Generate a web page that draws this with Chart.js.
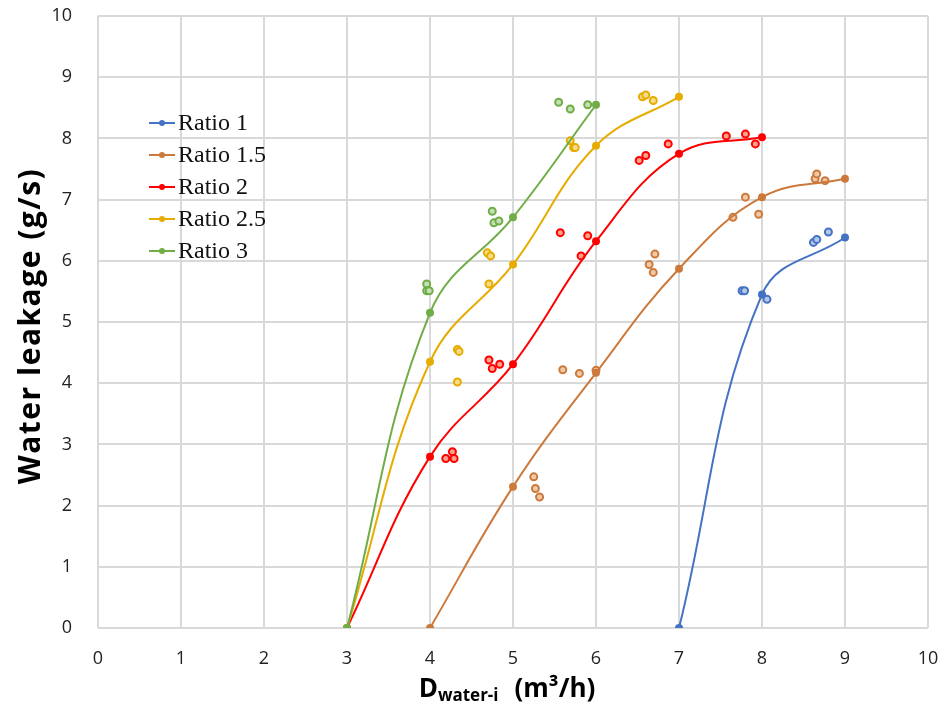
<!DOCTYPE html>
<html>
<head>
<meta charset="utf-8">
<script src="https://cdn.jsdelivr.net/npm/chart.js@4.4.0/dist/chart.umd.min.js"></script>
<style>
  body { margin: 0; background: #fff; }
  #leak { display: block; }
</style>
</head>
<body>
<canvas id="leak" width="938" height="704"></canvas>
<script>
// fitted curves (filled markers)
const r1X = [7, 8, 9];
const r1Y = [0, 5.45, 6.38];
const r15X = [4, 5, 6, 7, 8, 9];
const r15Y = [0, 2.31, 4.17, 5.87, 7.04, 7.34];
const r2X = [3, 4, 5, 6, 7, 8];
const r2Y = [0, 2.80, 4.31, 6.32, 7.75, 8.02];
const r25X = [3, 4, 5, 6, 7];
const r25Y = [0, 4.35, 5.94, 7.88, 8.68];
const r3X = [3, 4, 5, 6];
const r3Y = [0, 5.15, 6.71, 8.55];

// measured points (hollow markers)
const r1ScX = [7.76, 7.79, 8.06, 8.62, 8.66, 8.80];
const r1ScY = [5.51, 5.51, 5.37, 6.30, 6.35, 6.47];
const r15ScX = [5.25, 5.27, 5.32, 5.60, 5.80, 6.00, 6.64, 6.69, 6.71, 7.65, 7.80, 7.96, 8.64, 8.66, 8.76];
const r15ScY = [2.47, 2.28, 2.14, 4.22, 4.16, 4.21, 5.94, 5.81, 6.11, 6.71, 7.04, 6.76, 7.34, 7.42, 7.31];
const r2ScX = [4.19, 4.27, 4.29, 4.71, 4.75, 4.84, 5.57, 5.82, 5.90, 6.52, 6.60, 6.87, 7.57, 7.80, 7.92];
const r2ScY = [2.77, 2.88, 2.77, 4.38, 4.24, 4.31, 6.46, 6.08, 6.41, 7.64, 7.72, 7.91, 8.04, 8.07, 7.91];
const r25ScX = [4.33, 4.35, 4.33, 4.69, 4.73, 4.71, 5.69, 5.73, 5.75, 6.56, 6.60, 6.69];
const r25ScY = [4.55, 4.52, 4.02, 6.13, 6.08, 5.62, 7.96, 7.85, 7.85, 8.68, 8.71, 8.62];
const r3ScX = [3.96, 3.96, 3.99, 4.75, 4.77, 4.83, 5.55, 5.69, 5.90];
const r3ScY = [5.62, 5.51, 5.51, 6.81, 6.62, 6.65, 8.59, 8.48, 8.55];

const labels = ['Ratio 1', 'Ratio 1.5', 'Ratio 2', 'Ratio 2.5', 'Ratio 3'];
const colors = ['#4472c4', '#cc7a3c', '#ff0000', '#e6ac00', '#70ad47'];
const pale = ['#b4c7e7', '#efc9a8', '#ffa08a', '#f6dd8c', '#c5e0b4'];

const lineX = [r1X, r15X, r2X, r25X, r3X];
const lineY = [r1Y, r15Y, r2Y, r25Y, r3Y];
const scX = [r1ScX, r15ScX, r2ScX, r25ScX, r3ScX];
const scY = [r1ScY, r15ScY, r2ScY, r25ScY, r3ScY];

function pts(xs, ys) {
  return xs.map((x, i) => ({ x: x, y: ys[i] }));
}

const datasets = [];
labels.forEach((lab, i) => {
  datasets.push({
    type: 'scatter',
    label: lab + ' data',
    data: pts(scX[i], scY[i]),
    borderColor: colors[i],
    backgroundColor: pale[i],
    pointRadius: 3.5,
    pointBorderWidth: 2,
    showLine: false,
    order: 10 - i
  });
  datasets.push({
    type: 'line',
    label: lab,
    data: pts(lineX[i], lineY[i]),
    borderColor: colors[i],
    backgroundColor: colors[i],
    borderWidth: 2,
    pointRadius: 4,
    pointBorderWidth: 0,
    tension: 0.4,
    fill: false,
    order: 5 - i
  });
});

// legend drawn inside the plot, plus axis titles with subscript
const extras = {
  id: 'extras',
  afterDraw(chart) {
    const ctx = chart.ctx;
    ctx.save();
    // legend
    ctx.font = '24px "Liberation Serif"';
    ctx.textBaseline = 'middle';
    const rows = [123, 155, 187, 219, 251];
    labels.forEach((lab, i) => {
      ctx.strokeStyle = colors[i];
      ctx.lineWidth = 2;
      ctx.beginPath();
      ctx.moveTo(149, rows[i]);
      ctx.lineTo(175, rows[i]);
      ctx.stroke();
      ctx.fillStyle = colors[i];
      ctx.beginPath();
      ctx.arc(162, rows[i], 3, 0, Math.PI * 2);
      ctx.fill();
      ctx.fillStyle = '#111';
      ctx.textAlign = 'left';
      ctx.fillText(lab, 178, rows[i] + 1);
    });

    // y title
    ctx.fillStyle = '#000';
    ctx.translate(31, 326);
    ctx.rotate(-Math.PI / 2);
    ctx.font = 'bold 30px "Open Sans"';
    ctx.letterSpacing = '1.5px';
    ctx.textAlign = 'center';
    ctx.fillText('Water leakage (g/s)', 0, 0);
    ctx.letterSpacing = '0px';
    ctx.setTransform(1, 0, 0, 1, 0, 0);

    // x title: D + subscript + units
    const big = 'bold 26px "Open Sans"';
    const small = 'bold 17px "Open Sans"';
    ctx.textBaseline = 'alphabetic';
    ctx.textAlign = 'left';
    ctx.font = big;
    const wD = ctx.measureText('D').width;
    const wU = ctx.measureText('(m³/h)').width;
    ctx.font = small;
    const wS = ctx.measureText('water-i').width;
    const gap = 16;
    let x = 507 - (wD + wS + gap + wU) / 2;
    const base = 697;
    ctx.font = big;
    ctx.fillText('D', x, base);
    x += wD;
    ctx.font = small;
    ctx.fillText('water-i', x, base + 4);
    x += wS + gap;
    ctx.font = big;
    ctx.fillText('(m³/h)', x, base);
    ctx.restore();
  }
};

new Chart(document.getElementById('leak').getContext('2d'), {
  type: 'scatter',
  data: { datasets: datasets },
  options: {
    responsive: false,
    animation: false,
    layout: { padding: 0 },
    plugins: {
      legend: { display: false },
      tooltip: { enabled: false }
    },
    scales: {
      x: {
        type: 'linear',
        min: 0,
        max: 10,
        ticks: {
          stepSize: 1,
          padding: 20,
          color: '#222',
          font: { family: 'Open Sans', size: 18 }
        },
        grid: { color: '#d9d9d9', lineWidth: 2, drawTicks: false },
        border: { display: false },
        afterFit(scale) {
          scale.height = 76;
          scale.paddingLeft = 0;
          scale.paddingRight = 10;
        }
      },
      y: {
        min: 0,
        max: 10,
        ticks: {
          stepSize: 1,
          padding: 26,
          color: '#222',
          font: { family: 'Open Sans', size: 18 }
        },
        grid: { color: '#d9d9d9', lineWidth: 2, drawTicks: false },
        border: { display: false },
        afterFit(scale) {
          scale.width = 98;
          scale.paddingTop = 16;
          scale.paddingBottom = 0;
        }
      }
    }
  },
  plugins: [extras]
});
</script>
</body>
</html>
